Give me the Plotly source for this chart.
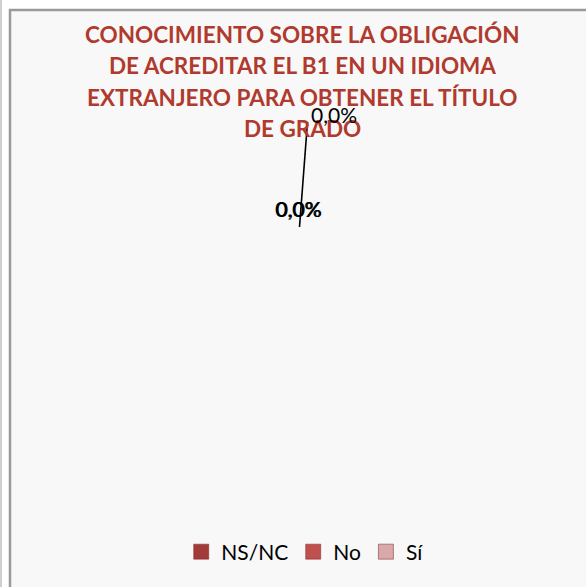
import plotly.graph_objects as go

# ---- data ----
categories = ["NS/NC", "No", "Sí"]
values = [0.0, 0.0, 0.0]
colors = ["#A33A3A", "#C0504D", "#D9A8A8"]
title_lines = ["CONOCIMIENTO SOBRE LA OBLIGACIÓN",
               "DE ACREDITAR EL B1 EN UN IDIOMA",
               "EXTRANJERO PARA OBTENER EL TÍTULO",
               "DE GRADO"]

W, H = 586, 587
FONT = "Lato, sans-serif"

def fmt(v):
    total = sum(values)
    pct = (v / total * 100) if total else 0.0
    return f"{pct:.1f}%".replace(".", ",")

fig = go.Figure()

# pie (all zero values -> nothing drawn, as in the source)
fig.add_trace(go.Pie(labels=categories, values=values, marker=dict(colors=colors),
                     showlegend=False, textinfo="none", sort=False,
                     domain=dict(x=[0.2, 0.8], y=[0.35, 0.75])))

# legend entries
for name, col in zip(categories, colors):
    fig.add_trace(go.Scatter(x=[None], y=[None], mode="markers", name=name,
                             marker=dict(symbol="square", size=15, color=col,
                                         line=dict(color="#7a2020", width=0.5))))

shapes = [
    # chart area frame
    dict(type="rect", xref="x", yref="y", x0=10, y0=10, x1=W + 5, y1=H + 5,
         fillcolor="#F8F8F8", line=dict(color="#9A9A9A", width=2.5), layer="below"),
    dict(type="line", xref="x", yref="y", x0=1, y0=0, x1=1, y1=H,
         line=dict(color="#A0A0A0", width=1), layer="below"),
    # leader line
    dict(type="line", xref="x", yref="y", x0=299.5, y0=227, x1=307.5, y1=122,
         line=dict(color="#000000", width=1.6)),
]

annotations = []
for i, line in enumerate(title_lines):
    annotations.append(dict(x=302, y=34.5 + 31.4 * i, xref="x", yref="y",
                            text="<b>" + line + "</b>", showarrow=False,
                            font=dict(family=FONT, size=22.5, color="#B03A2E"),
                            xanchor="center", yanchor="middle"))

annotations += [
    dict(x=298, y=208, xref="x", yref="y", text=fmt(values[0]), showarrow=False,
         font=dict(family=FONT, size=21, color="#000"), xanchor="center", yanchor="middle"),
    dict(x=298.8, y=208, xref="x", yref="y", text=fmt(values[1]), showarrow=False,
         font=dict(family=FONT, size=21, color="#000"), xanchor="center", yanchor="middle"),
    dict(x=334, y=114, xref="x", yref="y", text=fmt(values[2]), showarrow=False,
         font=dict(family=FONT, size=21, color="#000"), xanchor="center", yanchor="middle"),
]

fig.update_layout(
    width=W, height=H,
    margin=dict(l=0, r=0, t=0, b=0),
    paper_bgcolor="#FFFFFF", plot_bgcolor="rgba(0,0,0,0)",
    xaxis=dict(range=[0, W], visible=False, fixedrange=True),
    yaxis=dict(range=[H, 0], visible=False, fixedrange=True),
    shapes=shapes, annotations=annotations,
    showlegend=True,
    legend=dict(orientation="h", x=0.52, xanchor="center", y=1 - 552 / H, yanchor="middle",
                yref="paper", bgcolor="rgba(0,0,0,0)",
                font=dict(family=FONT, size=21, color="#000"),
                itemwidth=30, tracegroupgap=0),
)

fig.write_html("out.html", config={"displayModeBar": False},
               post_script="document.body.style.margin='0';")
